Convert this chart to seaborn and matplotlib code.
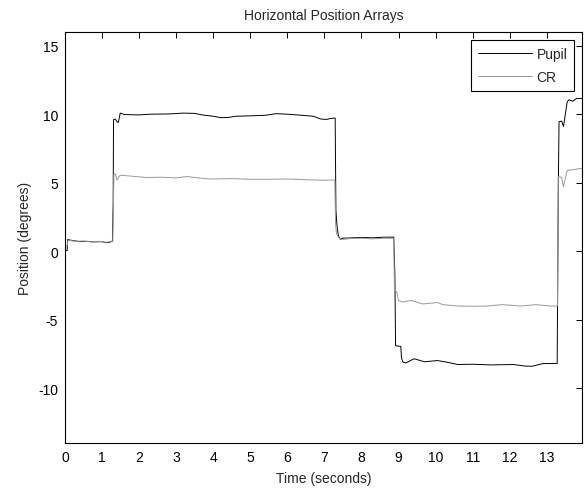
import matplotlib
matplotlib.use("Agg")
import pandas as pd
import matplotlib.pyplot as plt
import seaborn as sns

# Pupil trace (time in s, horizontal position in degrees)
pupil_t = [0.0, 0.06, 0.07, 0.2, 0.4, 0.6, 0.8, 1.0, 1.1, 1.2, 1.28,
           1.30, 1.31, 1.36, 1.40, 1.44, 1.49, 1.6, 1.8, 2.0, 2.3, 2.8,
           3.2, 3.5, 3.7, 4.0, 4.2, 4.4, 4.6, 5.0, 5.4, 5.7, 6.0, 6.4,
           6.7, 6.9, 7.05, 7.2, 7.29, 7.31, 7.33, 7.35, 7.38, 7.43, 7.5,
           7.7, 8.0, 8.3, 8.6, 8.87, 8.90, 8.92, 9.06, 9.08, 9.12, 9.2,
           9.42, 9.7, 10.05, 10.3, 10.6, 11.0, 11.5, 12.1, 12.4, 12.6,
           12.75, 12.9, 13.28, 13.31, 13.33, 13.4, 13.45, 13.55, 13.6,
           13.7, 13.8, 13.95]
pupil_deg = [0.05, 0.05, 0.85, 0.78, 0.7, 0.72, 0.68, 0.7, 0.62, 0.65, 0.75,
             3.5, 9.6, 9.65, 9.45, 9.4, 10.08, 9.98, 9.96, 9.95, 10.0, 10.02,
             10.08, 10.06, 9.95, 9.85, 9.75, 9.76, 9.85, 9.88, 9.92, 10.04, 10.0, 9.92,
             9.85, 9.65, 9.62, 9.7, 9.72, 3.0, 2.2, 1.6, 1.1, 0.85, 0.95,
             0.97, 1.0, 0.98, 1.02, 1.03, -1.6, -6.9, -6.95, -7.8, -8.1, -8.15,
             -7.85, -8.07, -7.98, -8.1, -8.27, -8.25, -8.3, -8.27, -8.38, -8.4,
             -8.3, -8.2, -8.2, 4.5, 9.45, 9.5, 9.1, 10.9, 11.05,
             10.95, 11.15, 11.15]

# Corneal reflection trace
cr_t = [0.0, 0.06, 0.08, 0.3, 0.5, 0.7, 0.9, 1.1, 1.25, 1.29,
        1.32, 1.36, 1.40, 1.49, 1.7, 2.2, 2.6, 3.0, 3.3, 3.6, 3.9,
        4.5, 5.0, 5.5, 6.0, 6.5, 7.0, 7.28, 7.30, 7.32, 7.34, 7.38,
        7.45, 7.7, 8.0, 8.3, 8.6, 8.87, 8.89, 8.95, 9.0, 9.1, 9.35,
        9.65, 10.05, 10.2, 10.6, 11.0, 11.4, 11.8, 12.3, 12.7, 13.1,
        13.29, 13.31, 13.4, 13.45, 13.55, 13.7, 13.95]
cr_deg = [0.4, 0.4, 0.8, 0.72, 0.75, 0.68, 0.72, 0.66, 0.7, 0.7,
          5.6, 5.65, 5.2, 5.55, 5.5, 5.38, 5.4, 5.35, 5.45, 5.35, 5.27,
          5.3, 5.25, 5.25, 5.27, 5.22, 5.18, 5.2, 2.0, 1.4, 1.2, 1.0,
          0.85, 0.92, 0.95, 0.9, 0.95, 0.93, -2.9, -2.95, -3.6, -3.7, -3.6,
          -3.85, -3.75, -3.9, -4.0, -4.02, -4.0, -3.9, -4.0, -3.9, -4.0,
          -4.0, 5.45, 5.4, 4.7, 5.9, 5.95, 6.05]

x_ticks = list(range(0, 14))
y_ticks = [-10, -5, 0, 5, 10, 15]

sns.set_style("white")
plt.rcParams['font.family'] = ['Liberation Sans', 'DejaVu Sans']
plt.rcParams['font.size'] = 10
plt.rcParams['axes.unicode_minus'] = False

df_pupil = pd.DataFrame({"Time": pupil_t, "Position": pupil_deg})
df_cr = pd.DataFrame({"Time": cr_t, "Position": cr_deg})

fig = plt.figure(figsize=(5.87, 4.89), dpi=100)
ax = fig.add_axes([0.1107, 0.092, 0.8808, 0.8405])

sns.lineplot(data=df_pupil, x="Time", y="Position", estimator=None, sort=False,
             color="black", linewidth=0.7, label="Pupil", ax=ax)
sns.lineplot(data=df_cr, x="Time", y="Position", estimator=None, sort=False,
             color="#9a9a9a", linewidth=0.7, label="CR", ax=ax)

ax.set_xlim(0, 13.95)
ax.set_ylim(-14, 16)
ax.set_xticks(x_ticks)
ax.set_yticks(y_ticks)
ax.tick_params(direction="in", length=4, width=0.7, top=True, right=True,
               labelsize=10, colors="black", pad=5)
for sp in ax.spines.values():
    sp.set_visible(True)
    sp.set_color("black")
    sp.set_linewidth(0.8)

ax.set_title("Horizontal Position Arrays", fontsize=10, pad=9.5)
ax.set_xlabel("Time (seconds)", fontsize=10, labelpad=5)
ax.set_ylabel("Position (degrees)", fontsize=10, labelpad=4)

leg = ax.legend(loc="upper right", fancybox=False, framealpha=1,
                edgecolor="black", handlelength=3.9, handletextpad=0.35,
                borderaxespad=0.55, borderpad=0.5, labelspacing=0.65, fontsize=10)
leg.get_frame().set_linewidth(0.8)

fig.savefig("out.png", dpi=100)
